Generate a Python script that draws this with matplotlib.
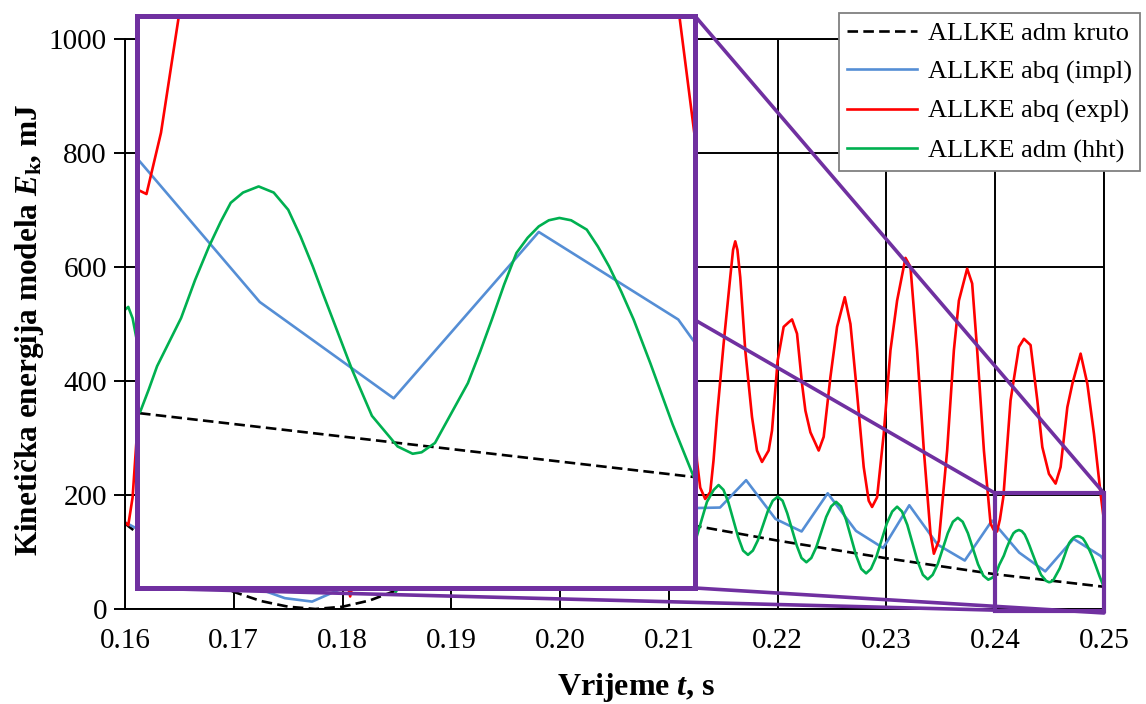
import matplotlib
matplotlib.use('Agg')
import matplotlib.pyplot as plt
from matplotlib.patches import Rectangle, ConnectionPatch
from matplotlib.ticker import FormatStrFormatter, MultipleLocator

plt.rcParams['font.family'] = ['Liberation Serif', 'DejaVu Serif']
plt.rcParams['mathtext.fontset'] = 'custom'
plt.rcParams['mathtext.rm'] = 'Liberation Serif:bold'
plt.rcParams['mathtext.it'] = 'Liberation Serif:italic:bold'
plt.rcParams['mathtext.bf'] = 'Liberation Serif:bold'

PURPLE = '#7030A0'

# ALLKE adm kruto (rigid)
kruto_t = [0.16, 0.1625, 0.165, 0.1675, 0.17, 0.1725, 0.175, 0.1775, 0.18, 0.1825,
           0.185, 0.1875, 0.19, 0.1925, 0.195, 0.1975, 0.2, 0.2025, 0.205, 0.2075,
           0.21, 0.2124, 0.22, 0.23, 0.24, 0.25]
kruto_e = [150, 113, 80, 54, 30, 14, 4, 0, 4, 15,
           33, 58, 88, 125, 168, 215, 255, 235, 210, 185,
           162, 146, 120, 89, 61, 39]

# ALLKE abq (impl)
impl_t = [0.16, 0.1622, 0.1647, 0.1672, 0.1697, 0.1722, 0.1747, 0.1772, 0.1797, 0.1822,
          0.1847, 0.1872, 0.1897, 0.1922, 0.1947, 0.1972, 0.1997, 0.2022, 0.2047, 0.2072,
          0.2097, 0.2122, 0.2147, 0.2171, 0.2198, 0.2222, 0.2246, 0.2272, 0.2297, 0.2321,
          0.2347, 0.2372, 0.2397, 0.2422, 0.2446, 0.2472, 0.2497, 0.25]
impl_e = [152, 130, 104, 82, 50, 36, 19, 13, 34, 70,
          110, 150, 188, 222, 248, 258, 250, 232, 214, 200,
          188, 177, 178, 226, 158, 136, 203, 137, 107, 182,
          113, 85, 155, 99, 66, 123, 93, 85]

# ALLKE abq (expl)
expl_t = [0.16, 0.1603, 0.1607, 0.1615, 0.163, 0.1648, 0.1665, 0.1685, 0.1705, 0.1725,
          0.1745, 0.1765, 0.1785, 0.1807, 0.1825, 0.1848, 0.187, 0.1892, 0.1915, 0.1937,
          0.196, 0.1982, 0.2005, 0.2028, 0.205, 0.2072, 0.2095, 0.211, 0.2124, 0.21258,
          0.21288, 0.21334, 0.2138, 0.2141, 0.21442, 0.21503, 0.21564, 0.2159, 0.2161, 0.2163,
          0.21656, 0.21702, 0.21764, 0.2181, 0.21856, 0.21917, 0.21948, 0.22, 0.22055, 0.22101,
          0.22132, 0.22178, 0.22224, 0.22255, 0.22301, 0.22377, 0.22423, 0.22485, 0.22546, 0.22617,
          0.22669, 0.2273, 0.22791, 0.22837, 0.22868, 0.22914, 0.22975, 0.23037, 0.23098, 0.23175,
          0.23221, 0.23282, 0.23344, 0.23405, 0.23436, 0.23482, 0.23558, 0.2362, 0.23666, 0.23742,
          0.23788, 0.23834, 0.23896, 0.23957, 0.23985, 0.24017, 0.24043, 0.24075, 0.24141, 0.24218,
          0.24264, 0.24325, 0.24387, 0.24433, 0.24494, 0.24555, 0.24601, 0.24663, 0.24709, 0.24785,
          0.24847, 0.24908, 0.2497, 0.25]
expl_e = [152, 147, 196, 420, 820, 990, 760, 380, 210, 440,
          720, 560, 220, 22, 190, 620, 900, 720, 360, 240,
          560, 860, 680, 320, 280, 620, 880, 700, 330, 260,
          213, 193, 205, 260, 337, 465, 582, 630, 645, 630,
          582, 454, 337, 278, 258, 278, 313, 436, 495, 503,
          508, 483, 395, 348, 310, 278, 302, 407, 495, 547,
          500, 378, 249, 190, 179, 196, 307, 454, 541, 616,
          600, 454, 278, 132, 97, 120, 278, 454, 541, 597,
          571, 454, 278, 150, 139, 136, 157, 197, 366, 460,
          474, 463, 366, 284, 237, 220, 249, 354, 395, 448,
          395, 307, 200, 155]

# ALLKE adm (hht)
hht_t = [0.16, 0.1603, 0.1607, 0.1611, 0.162, 0.164, 0.166, 0.168, 0.17, 0.172,
         0.1745, 0.177, 0.1795, 0.182, 0.1835, 0.1849, 0.1865, 0.189, 0.1915, 0.194,
         0.1965, 0.199, 0.2015, 0.204, 0.2065, 0.209, 0.211, 0.2118, 0.2124, 0.2135,
         0.21412, 0.21457, 0.21502, 0.21547, 0.21637, 0.21682, 0.21727, 0.21772, 0.21818, 0.21909,
         0.21955, 0.22, 0.22045, 0.22088, 0.22176, 0.22219, 0.22264, 0.22309, 0.22355, 0.22446,
         0.22492, 0.22537, 0.22582, 0.22629, 0.22721, 0.22768, 0.22813, 0.22858, 0.22908, 0.23003,
         0.23053, 0.23098, 0.23143, 0.23192, 0.23286, 0.23335, 0.2338, 0.23425, 0.23472, 0.23564,
         0.23611, 0.23656, 0.23701, 0.23749, 0.23842, 0.23891, 0.23936, 0.2397, 0.24006, 0.24021,
         0.24036, 0.24079, 0.24104, 0.24129, 0.2415, 0.24168, 0.2419, 0.24218, 0.24245, 0.24271,
         0.24293, 0.24315, 0.24333, 0.24351, 0.24385, 0.24421, 0.24467, 0.24494, 0.2451, 0.24534,
         0.24593, 0.24615, 0.24636, 0.24658, 0.2468, 0.247, 0.2472, 0.24738, 0.24757, 0.24778,
         0.24806, 0.24826, 0.24846, 0.24868, 0.2489, 0.2492, 0.2496, 0.25]
hht_e = [525, 530, 510, 470, 380, 200, 130, 220, 330, 260,
         130, 180, 300, 180, 80, 30, 85, 250, 320, 230,
         110, 170, 300, 240, 130, 140, 100, 92, 117, 188,
         209, 217.5, 209, 187, 126, 102.5, 95, 102.5, 120.5, 171.5,
         190, 197, 190, 168, 111, 89.5, 82, 89.5, 108.5, 161.5,
         180, 188, 180, 156.5, 94, 70.5, 62.5, 70.5, 92, 150,
         171, 179.5, 171, 147.5, 84, 60, 52, 60, 79, 133,
         153, 160, 153, 133, 78.5, 58.5, 51.4, 54.5, 61.5, 69,
         77, 93.5, 106.5, 118, 126.5, 133, 136.5, 138.6, 136.5, 130.6,
         121.5, 111.2, 102, 93, 76, 60, 49.5, 47, 47.5, 50.7,
         71.2, 82, 93, 105, 115.8, 121, 124.9, 127, 127.8, 127,
         123.8, 118, 111.2, 102.5, 93, 78, 57, 38]


def draw_series(a):
    a.plot(kruto_t, kruto_e, color='black', lw=1.9, ls=(0, (4, 2)), label='ALLKE adm kruto')
    a.plot(impl_t, impl_e, color='#558ED5', lw=1.9, label='ALLKE abq (impl)')
    a.plot(expl_t, expl_e, color='#FF0000', lw=1.9, label='ALLKE abq (expl)')
    a.plot(hht_t, hht_e, color='#00B050', lw=1.9, label='ALLKE adm (hht)')


fig = plt.figure(figsize=(11.46, 7.04), dpi=100)
ax = fig.add_axes([125 / 1146, 1 - 609 / 704, 979 / 1146, 570 / 704])
draw_series(ax)
ax.set_xlim(0.16, 0.25)
ax.set_ylim(0, 1000)
ax.xaxis.set_major_locator(MultipleLocator(0.01))
ax.yaxis.set_major_locator(MultipleLocator(200))
ax.xaxis.set_major_formatter(FormatStrFormatter('%.2f'))
ax.grid(True, color='black', lw=1.4)
ax.tick_params(axis='x', length=0, pad=14, labelsize=21)
ax.tick_params(axis='y', length=8, width=1.4, pad=5, labelsize=21, direction='out')
for s in ax.spines.values():
    s.set_color('black')
    s.set_linewidth(1.4)

# zoomed region 0.24-0.25
ax.add_patch(Rectangle((0.24, -4), 0.01, 207, fill=False, ec=PURPLE, lw=3,
                       clip_on=False, zorder=6))

axins = fig.add_axes([137 / 1146, 1 - 588 / 704, 558 / 1146, 572 / 704])
draw_series(axins)
axins.set_xlim(0.24, 0.25)
axins.set_ylim(1, 197)
axins.set_xticks([])
axins.set_yticks([])
for s in axins.spines.values():
    s.set_color(PURPLE)
    s.set_linewidth(3.6)

# connector lines inset -> zoom box
for pa, pb in [((1, 1), (0.25, 203)), ((1, 0.4685), (0.24, 203)),
               ((0, 0), (0.24, -2)), ((1, 0), (0.25, -7))]:
    con = ConnectionPatch(xyA=pa, coordsA=axins.transAxes, xyB=pb, coordsB=ax.transData,
                          color=PURPLE, lw=2.6)
    fig.add_artist(con)

handles, labels = ax.get_legend_handles_labels()
leg = fig.legend(handles, labels, loc='upper right', bbox_to_anchor=(1140 / 1146, 1 - 13 / 704),
                 fontsize=19, frameon=True, fancybox=False, edgecolor='#808080', framealpha=1,
                 handlelength=2.65, handletextpad=0.4, labelspacing=0.58, borderpad=0.32,
                 borderaxespad=0)
leg.get_frame().set_linewidth(1.3)

fig.text(636 / 1146, 1 - 688 / 704, r'Vrijeme $t$, s', ha='center', va='center',
         fontsize=23, fontweight='bold')
fig.text(30 / 1146, 1 - 330 / 704, r'Kinetička energija modela $E_\mathrm{k}$, mJ',
         rotation=90, ha='center', va='center', fontsize=22.5, fontweight='bold')

fig.savefig('out.png', dpi=100)
